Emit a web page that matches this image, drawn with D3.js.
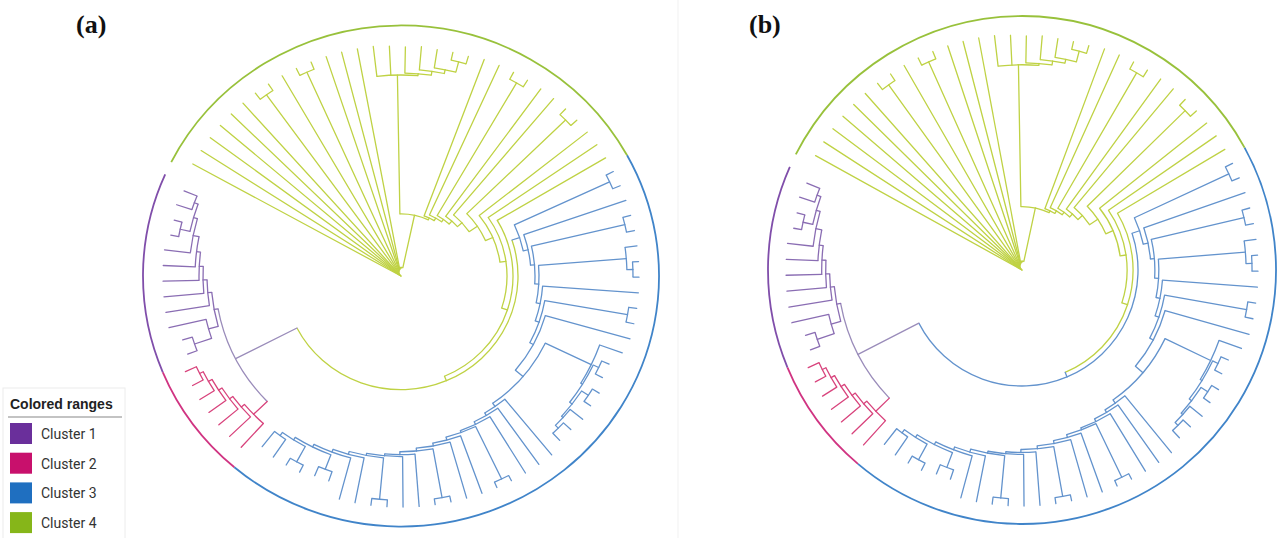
<!DOCTYPE html>
<html>
<head>
    <script src="https://d3js.org/d3.v7.min.js"></script>
    <title>Circular trees - colored ranges</title>
    <style>
        body { margin: 0; background: #fff; }
    </style>
</head>
<body>
    <svg id="plot" height="538" width="1282"></svg>
    <script>
        // ---- legend / clusters ----
        const clusterKeys = ["c1", "c2", "c3", "c4"];
        const clusterNames = ["Cluster 1", "Cluster 2", "Cluster 3", "Cluster 4"];
        const clusterColors = ["#6a2f9b", "#c8106c", "#1f6fc0", "#86b619"];
        const branchColors = ["#8a6db3", "#d8437c", "#6393cd", "#bfd244"];
        const panelLabels = ["(a)", "(b)"];

        // ---- tree (branch lengths), written as ladders: [length from previous spine node, side clade] ----
        // cluster 4, from the root going clockwise
        const greenSteps = [
            [0, "c4:238"], [0.8, "c4:237.2"], [0.8, "c4:236.4"], [0.8, "c4:235.6"],
            [0.8, "c4:234.8"], [0.8, "c4:234"], [0.8, "(c4:8,c4:8):225.2"], [0.8, "c4:232.4"],
            [0.8, "(c4:8,c4:8):223.6"], [0.8, "c4:230.8"], [0.8, "c4:230"], [0.8, "c4:229.2"],
            [55.2, "(c4:31,c4:30,(c4:27,(c4:24,(c4:19,(c4:8,c4:8):11):4):4):2):143"],
            [2, "c4:172"], [3, "c4:169"], [3, "(c4:8,c4:8):158"], [4, "c4:162"],
            [6, "c4:156"], [10, "(c4:8,c4:8):138"], [8, "c4:138"], [6, "c4:132"], [6, "c4:126"]
        ];
        const yLength = 5;
        // cluster 3
        const blueSteps = [
            [8, "(c3:8,c3:8):105"], [5, "c3:108"], [4, "(c3:8,c3:8):96"], [4, "(c3:12,(c3:6,c3:6):6):88"],
            [4, "c3:96"], [4, "(c3:8,c3:8):84"], [4, "c3:88"],
            [10, "(c3:24,((c3:8,c3:8):6,((c3:8,c3:8):8,(c3:16,(c3:10,c3:10):4):2):3):2):51"],
            [4, "c3:74"], [3, "c3:71"], [3, "c3:68"], [2, "(c3:6,c3:6):60"], [3, "c3:63"],
            [3, "c3:60"], [3, "(c3:6,c3:6):51"], [3, "c3:54"], [2, "c3:52"], [2, "(c3:7,c3:7):43"],
            [3, "c3:47"], [3, "c3:44"], [3, "(c3:10,c3:10):16"], [3, "(c3:8,c3:8):18"]
        ];
        const blueTail = "(c3:22,c3:20):4";
        const ppLength = 69;
        // cluster 2
        const pinkSteps = [[19, "c2:33"], [4, "c2:29"], [4, "c2:25"], [4, "c2:21"], [4, "c2:17"]];
        const pinkTail = "(c2:12,c2:12):4";
        // cluster 1
        const purpleSteps = [
            [4, "((c1:10,c1:10):18,c1:38):10"], [4, "c1:44"], [4, "c1:40"], [4, "c1:36"],
            [4, "c1:32"], [6, "c1:26"], [4, "(c1:8,c1:8):10"]
        ];
        const purpleTail = "(c1:16,c1:14):4";

        function ladder(steps, tail) {
            let s = tail;
            for (let k = steps.length - 1; k >= 0; k--) {
                s = `(${steps[k][1]},${s}):${steps[k][0]}`;
            }
            return s;
        }

        function parseNewick(s) {
            let i = 0;
            function node() {
                const n = {children: []};
                if (s[i] === '(') {
                    i++;
                    n.children.push(node());
                    while (s[i] === ',') { i++; n.children.push(node()); }
                    i++;
                }
                let name = '';
                while (i < s.length && !':,()'.includes(s[i])) name += s[i++];
                n.name = name;
                n.length = 0;
                if (s[i] === ':') {
                    i++;
                    let num = '';
                    while (i < s.length && !',()'.includes(s[i])) num += s[i++];
                    n.length = +num;
                }
                if (!n.children.length) delete n.children;
                return n;
            }
            return node();
        }

        const ppNewick = `(${ladder(pinkSteps, pinkTail)},${ladder(purpleSteps, purpleTail)}):${ppLength}`;
        const yNewick = `(${ladder(blueSteps, blueTail)},${ppNewick}):${yLength}`;
        const treeNewick = ladder(greenSteps, yNewick);

        const root = d3.hierarchy(parseNewick(treeNewick));
        root.eachBefore(d => d.rad = d.parent ? d.parent.rad + d.data.length : 0);
        const leaves = root.leaves();
        const maxDepth = d3.max(leaves, d => d.rad);

        const startAngle = 151, spanAngle = 353;
        const angleScale = d3.scaleLinear().domain([0, leaves.length - 1]).range([startAngle, startAngle - spanAngle]);
        const step = spanAngle / (leaves.length - 1);
        leaves.forEach((d, i) => { d.ang = angleScale(i); d.idx = i; });
        root.eachAfter(d => {
            if (d.children) {
                d.ang = (d.children[0].ang + d.children[d.children.length - 1].ang) / 2;
                d.keys = new Set(d.children.flatMap(c => [...c.keys]));
            } else {
                d.keys = new Set([d.data.name]);
            }
        });

        const panels = [
            {cx: 401, cy: 276, sy: 0.971, tipR: 238, rangeR: 258, mixed: branchColors[3], lx: 76},
            {cx: 1022, cy: 270, sy: 1.0, tipR: 236, rangeR: 254, mixed: branchColors[2], lx: 749}
        ];

        const svg = d3.select('svg#plot');
        svg.append('rect').attr('width', 1282).attr('height', 538).attr('fill', '#fff');

        // faint divider between panels
        svg.append('line')
            .attr('x1', 678).attr('x2', 678).attr('y1', 0).attr('y2', 538)
            .style('stroke', '#f1f1f1').style('stroke-width', 1);

        const rad = a => a * Math.PI / 180;

        function nodeColor(d, p) {
            if (d.keys.size === 1) return branchColors[clusterKeys.indexOf([...d.keys][0])];
            if (d.keys.has("c4")) return branchColors[3];
            if (d.keys.has("c3")) return p.mixed;
            return "#9a8cba";
        }

        panels.forEach((p, pi) => {
            const g = svg.append('g').attr('transform', `translate(${p.cx},${p.cy}) scale(1,${p.sy})`);
            const rScale = d3.scaleLinear().domain([0, maxDepth]).range([0, p.tipR]);
            const pt = (a, r) => [r * Math.cos(rad(a)), -r * Math.sin(rad(a))];

            // colored ranges
            clusterKeys.forEach((k, ci) => {
                const idx = leaves.filter(d => d.data.name === k).map(d => d.idx);
                const a0 = angleScale(d3.min(idx)) + step / 2;
                const a1 = angleScale(d3.max(idx)) - step / 2;
                const path = d3.path();
                const r = p.rangeR;
                const s = pt(a0, r);
                path.moveTo(s[0], s[1]);
                path.arc(0, 0, r, -rad(a0), -rad(a1), false);
                g.append('path').attr('d', path.toString())
                    .attr('fill', 'none')
                    .style('stroke', clusterColors[ci])
                    .style('stroke-width', 1.8)
                    .style('opacity', 0.85);
            });

            // arcs of internal nodes
            root.descendants().filter(d => d.children).forEach(d => {
                const r = rScale(d.rad);
                if (r < 0.5) return;
                const a0 = d.children[0].ang, a1 = d.children[d.children.length - 1].ang;
                const path = d3.path();
                const s = pt(a0, r);
                path.moveTo(s[0], s[1]);
                path.arc(0, 0, r, -rad(a0), -rad(a1), false);
                g.append('path').attr('d', path.toString())
                    .attr('fill', 'none')
                    .style('stroke', nodeColor(d, p))
                    .style('stroke-width', 1.3);
            });

            // radial branches
            root.descendants().filter(d => d.parent).forEach(d => {
                const s = pt(d.ang, rScale(d.parent.rad));
                const e = pt(d.ang, rScale(d.rad));
                g.append('line')
                    .attr('x1', s[0]).attr('y1', s[1])
                    .attr('x2', e[0]).attr('y2', e[1])
                    .style('stroke', nodeColor(d, p))
                    .style('stroke-width', 1.3)
                    .style('stroke-linecap', 'round');
            });

            svg.append('text')
                .attr('x', p.lx).attr('y', 33)
                .text(panelLabels[pi])
                .style('font-family', 'Liberation Serif, Times New Roman, serif')
                .style('font-weight', 'bold')
                .style('font-size', '26px')
                .style('fill', '#111');
        });

        // legend
        const legend = svg.append('g').attr('transform', 'translate(3,388)');
        legend.append('rect').attr('width', 122).attr('height', 152)
            .attr('fill', '#fff').style('stroke', '#ececec');
        legend.append('text').attr('x', 7).attr('y', 21).text('Colored ranges')
            .style('font-family', 'Liberation Sans, Arial, sans-serif')
            .style('font-weight', 'bold').style('font-size', '14px').style('fill', '#222');
        legend.append('line').attr('x1', 5).attr('x2', 119).attr('y1', 29).attr('y2', 29)
            .style('stroke', '#888').style('stroke-width', 1.2);
        clusterNames.forEach((name, i) => {
            legend.append('rect')
                .attr('x', 7).attr('y', 35 + i * 29.7)
                .attr('width', 22).attr('height', 21)
                .attr('fill', clusterColors[i]);
            legend.append('text')
                .attr('x', 38).attr('y', 51 + i * 29.7)
                .text(name)
                .style('font-family', 'Roboto, Liberation Sans, Arial, sans-serif')
                .style('font-size', '14px').style('fill', '#333');
        });
    </script>
</body>
</html>
